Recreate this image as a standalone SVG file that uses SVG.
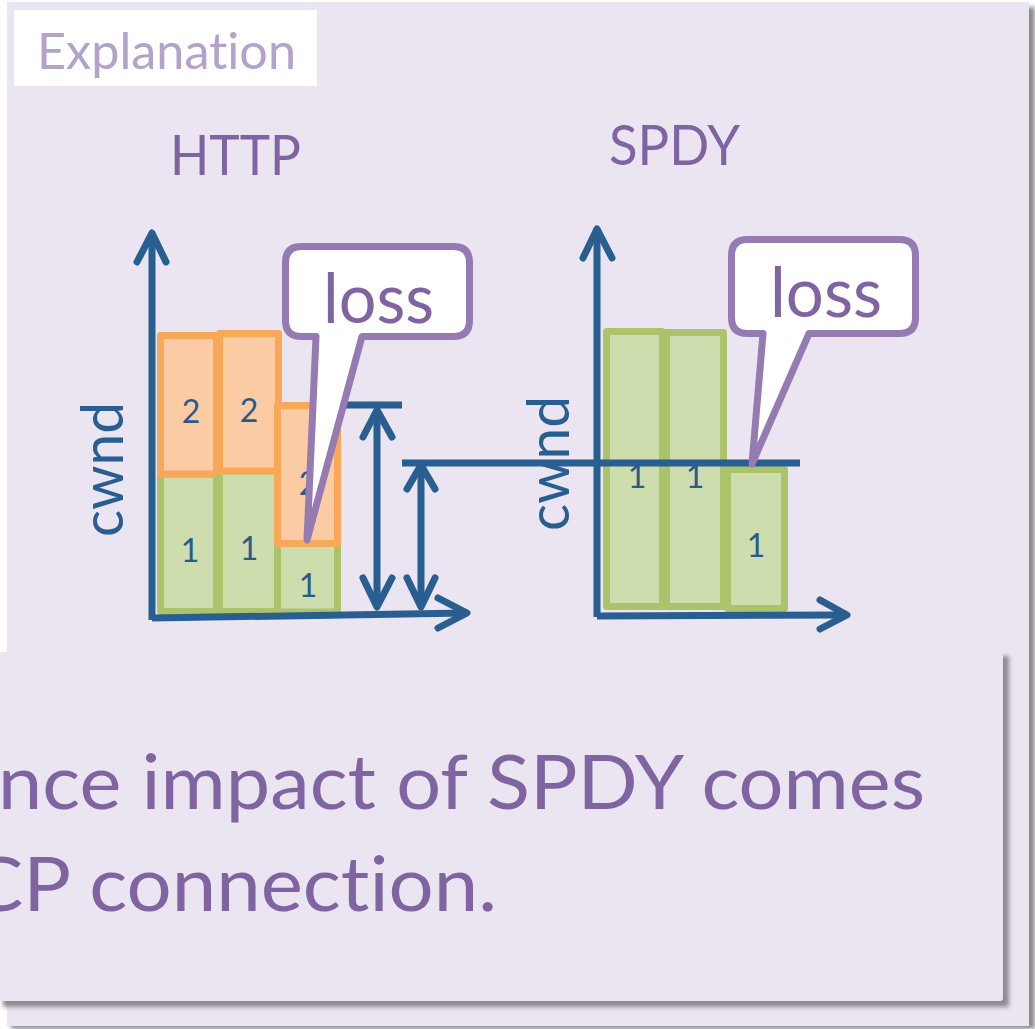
<svg xmlns="http://www.w3.org/2000/svg" width="1035" height="1029" viewBox="0 0 1035 1029">
  <defs>
    <filter id="soft" x="-5%" y="-5%" width="110%" height="110%">
      <feGaussianBlur stdDeviation="2"/>
    </filter>
    <style>
      text { font-family: Lato, "Open Sans", "Liberation Sans", sans-serif; font-variant-ligatures: none; font-feature-settings: "liga" 0, "clig" 0; }
      .panel { fill: #EBE5F1; }
      .shadow { fill: #8E8C92; filter: url(#soft); }
      .axis { fill: none; stroke: #295E91; stroke-width: 7; }
      .head { fill: none; stroke: #295E91; stroke-width: 7; stroke-linecap: round; stroke-linejoin: round; }
      .green { fill: #CEDDAE; stroke: #ABC46C; stroke-width: 7; stroke-linejoin: round; }
      .orange { fill: #FBCBA4; stroke: #F9A85A; stroke-width: 7; stroke-linejoin: round; }
      .num { font-size: 32px; fill: #2A5A8C; text-anchor: middle; }
      .callout { fill: #FFFFFF; stroke: #967BB3; stroke-width: 7; stroke-linejoin: round; }
      .loss { font-size: 70px; fill: #8064A2; }
      .title { font-size: 56px; fill: #8064A2; }
      .cwnd { font-size: 58px; fill: #295E91; }
      .body { font-size: 76px; fill: #8064A2; }
    </style>
  </defs>

  <rect x="0" y="0" width="1035" height="1029" fill="#FFFFFF"/>

  <!-- slide panel -->
  <g id="panel">
    <rect class="shadow" x="11" y="7" width="1024" height="1022"/>
    <rect class="panel" x="7" y="2" width="1022" height="1024"/>
  </g>

  <!-- heading tag -->
  <g id="explanation">
    <rect x="14" y="10" width="303" height="76" fill="#FFFFFF"/>
    <text x="37" y="69" font-size="51" fill="#B3A3CA" textLength="259" lengthAdjust="spacingAndGlyphs">Explanation</text>
  </g>

  <g id="http-title">
    <text class="title" x="170" y="175" textLength="131" lengthAdjust="spacingAndGlyphs">HTTP</text>
  </g>
  <g id="spdy-title">
    <text class="title" x="609" y="165" textLength="131" lengthAdjust="spacingAndGlyphs">SPDY</text>
  </g>

  <!-- HTTP chart -->
  <g id="http-chart">
    <text class="cwnd" transform="translate(123 537) rotate(-90)" textLength="135" lengthAdjust="spacingAndGlyphs">cwnd</text>
    <rect class="green" x="160.5" y="474" width="56" height="137.5"/>
    <rect class="orange" x="160.5" y="335.5" width="56" height="138.5"/>
    <rect class="green" x="219.5" y="471" width="59" height="140.5"/>
    <rect class="orange" x="219.5" y="333.5" width="59" height="137.5"/>
    <rect class="green" x="277.5" y="543.5" width="60" height="68.5"/>
    <rect class="orange" x="277.5" y="405.5" width="60" height="138"/>
    <text class="num" x="191" y="423">2</text>
    <text class="num" x="249" y="422">2</text>
    <text class="num" x="308" y="495">2</text>
    <text class="num" x="190" y="562">1</text>
    <text class="num" x="249" y="560">1</text>
    <text class="num" x="308" y="597">1</text>
    <path class="axis" d="M152 233 V620"/>
    <path class="axis" d="M152 618 L466 613"/>
    <path class="head" d="M137 262 L152 233 L166 262"/>
    <path class="head" d="M438 598 L467 613 L438 628"/>
  </g>

  <!-- SPDY chart -->
  <g id="spdy-chart">
    <text class="cwnd" transform="translate(569 531) rotate(-90)" textLength="135" lengthAdjust="spacingAndGlyphs">cwnd</text>
    <rect class="green" x="606.5" y="331.5" width="56" height="275"/>
    <rect class="green" x="666.5" y="332.5" width="57" height="274"/>
    <rect class="green" x="727.5" y="469.5" width="57" height="139"/>
    <text class="num" x="637" y="488">1</text>
    <text class="num" x="695" y="488">1</text>
    <text class="num" x="756" y="557">1</text>
    <path class="axis" d="M597 228 V617"/>
    <path class="axis" d="M597 616 L847 615"/>
    <path class="head" d="M583 258 L597 229 L612 258"/>
    <path class="head" d="M820 600 L847 615 L820 629"/>
  </g>

  <!-- window-size markers -->
  <g id="connectors">
    <path class="axis" d="M335 405 H402"/>
    <path class="axis" d="M402 463 H800"/>
    <path class="axis" d="M377 410 V607"/>
    <path class="head" d="M363 437 L377 410 L392 437"/>
    <path class="head" d="M363 578 L377 607 L392 578"/>
    <path class="axis" d="M421 465 V607"/>
    <path class="head" d="M407 489 L421 465 L435 489"/>
    <path class="head" d="M407 578 L421 607 L435 578"/>
  </g>

  <!-- loss callouts -->
  <g id="http-loss">
    <path class="callout" d="M301.5 246.5 H453.5 Q469.5 246.5 469.5 262.5 V320.5 Q469.5 336.5 453.5 336.5 H362 L307 540 L316 336.5 H301.5 Q285.5 336.5 285.5 320.5 V262.5 Q285.5 246.5 301.5 246.5 Z"/>
    <text class="loss" x="323" y="323" textLength="111" lengthAdjust="spacingAndGlyphs">loss</text>
  </g>
  <g id="spdy-loss">
    <path class="callout" d="M747.5 239.5 H899.5 Q915.5 239.5 915.5 255.5 V317.5 Q915.5 333.5 899.5 333.5 H809 L752 464 L763 333.5 H747.5 Q731.5 333.5 731.5 317.5 V255.5 Q731.5 239.5 747.5 239.5 Z"/>
    <text class="loss" x="770" y="317" textLength="112" lengthAdjust="spacingAndGlyphs">loss</text>
  </g>

  <!-- overlay text box -->
  <g id="summary">
    <rect class="shadow" x="3" y="656" width="1006" height="351"/>
    <rect class="panel" x="0" y="652" width="1003" height="349" rx="3"/>
    <text class="body" x="-2" y="809" textLength="927" lengthAdjust="spacingAndGlyphs">nce impact of SPDY comes</text>
    <text class="body" x="-30" y="911" textLength="527" lengthAdjust="spacingAndGlyphs">CP connection.</text>
  </g>
</svg>
